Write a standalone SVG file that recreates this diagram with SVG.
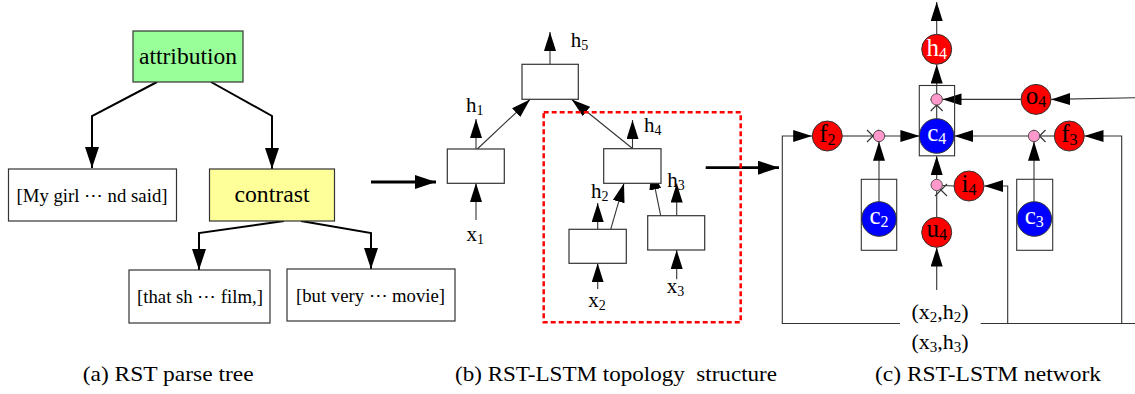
<svg xmlns="http://www.w3.org/2000/svg" width="1135" height="394" viewBox="0 0 1135 394">
<style>
  text { font-family: "Liberation Serif", "Times New Roman", "DejaVu Serif", serif; fill: #000; }
  .box { fill: #fff; stroke: #333; stroke-width: 1.2; }
  .thin { fill: none; stroke: #333; stroke-width: 1.1; }
  .thick { fill: none; stroke: #000; stroke-width: 2; }
  .big { fill: none; stroke: #000; stroke-width: 2.8; }
  .red { fill: #FF0000; stroke: #333; stroke-width: 1; }
  .blue { fill: #0000FF; stroke: #333; stroke-width: 1; }
  .pink { fill: #FF99CC; stroke: #333; stroke-width: 0.8; }
  .ctext { font-size: 25px; text-anchor: middle; }
  .wtext { font-size: 25px; text-anchor: middle; fill: #fff; }
  .lbl { font-size: 21px; }
  .cap { font-size: 22px; }
</style>
<defs>
  <marker id="ah" markerUnits="userSpaceOnUse" markerWidth="19" markerHeight="12" refX="19" refY="6" orient="auto">
    <path d="M0,0 L19,6 L0,12 z" fill="#000"/>
  </marker>
  <marker id="ahA" markerUnits="userSpaceOnUse" markerWidth="21" markerHeight="14" refX="21" refY="7" orient="auto">
    <path d="M0,0 L21,7 L0,14 z" fill="#000"/>
  </marker>
</defs>

<!-- Connectors -->
<g id="connectors">
  <!-- panel a -->
  <polyline class="thick" points="157,82 92,116 92,168" marker-end="url(#ahA)"/>
  <polyline class="thick" points="211,82 272,116 272,169" marker-end="url(#ahA)"/>
  <polyline class="thick" points="284,221 199,233 199,270" marker-end="url(#ahA)"/>
  <polyline class="thick" points="301,221 371,233 371,269" marker-end="url(#ahA)"/>
  <line class="big" x1="371" y1="182" x2="436" y2="182" marker-end="url(#ahA)"/>
  <!-- panel b -->
  <line class="thin" x1="550" y1="64" x2="550" y2="32" marker-end="url(#ah)"/>
  <line class="thin" x1="476" y1="149" x2="476" y2="119" marker-end="url(#ah)"/>
  <line class="thin" x1="476" y1="220" x2="476" y2="183" marker-end="url(#ah)"/>
  <line class="thin" x1="477.3" y1="149" x2="530" y2="99.5" marker-end="url(#ah)"/>
  <line class="thin" x1="632.5" y1="148.5" x2="571.7" y2="99.5" marker-end="url(#ah)"/>
  <line class="thin" x1="632.5" y1="148.5" x2="632.5" y2="120" marker-end="url(#ah)"/>
  <line class="thin" x1="597.7" y1="229.3" x2="597.7" y2="203" marker-end="url(#ah)"/>
  <line class="thin" x1="610.7" y1="229.3" x2="624" y2="183.3" marker-end="url(#ah)"/>
  <line class="thin" x1="597.7" y1="289" x2="597.7" y2="263.3" marker-end="url(#ah)"/>
  <line class="thin" x1="676.7" y1="215.7" x2="676.7" y2="183.5" marker-end="url(#ah)"/>
  <line class="thin" x1="660.7" y1="215.7" x2="651.5" y2="170.7" marker-end="url(#ah)"/>
  <line class="thin" x1="676.7" y1="279.3" x2="676.7" y2="250" marker-end="url(#ah)"/>
  <line class="big" x1="705.7" y1="167.7" x2="779" y2="167.7" marker-end="url(#ahA)"/>
  <!-- panel c -->
  <line class="thin" x1="936.7" y1="34.3" x2="936.7" y2="2" marker-end="url(#ah)"/>
  <line class="thin" x1="936.7" y1="118.7" x2="936.7" y2="64.5" marker-end="url(#ah)"/>
  <line class="thin" x1="1021" y1="99.4" x2="942.5" y2="99.4" marker-end="url(#ah)"/>
  <line class="thin" x1="1135" y1="97.7" x2="1051.2" y2="99.4" marker-end="url(#ah)"/>
  <polyline class="thin" points="900,323.5 782.3,323.5 782.3,136 812.2,136" marker-end="url(#ah)"/>
  <line class="thin" x1="842.3" y1="136" x2="873.3" y2="136"/>
  <line class="thin" x1="884.7" y1="136" x2="919.4" y2="136" marker-end="url(#ah)"/>
  <line class="thin" x1="879" y1="201.7" x2="879" y2="141.7" marker-end="url(#ah)"/>
  <line class="thin" x1="980.7" y1="323.5" x2="1135" y2="323.5"/>
  <polyline class="thin" points="1121.7,323.5 1121.7,136 1084.5,136" marker-end="url(#ah)"/>
  <polyline class="thin" points="1007.7,323.5 1007.7,186 984.2,186" marker-end="url(#ah)"/>
  <line class="thin" x1="1054.3" y1="136" x2="1039.7" y2="136"/>
  <line class="thin" x1="1028.3" y1="136" x2="954.3" y2="136" marker-end="url(#ah)"/>
  <line class="thin" x1="1034" y1="201.7" x2="1034" y2="141.7" marker-end="url(#ah)"/>
  <line class="thin" x1="954" y1="186" x2="942.4" y2="185.5"/>
  <line class="thin" x1="936.7" y1="179.3" x2="936.7" y2="156" marker-end="url(#ah)"/>
  <line class="thin" x1="936.7" y1="217.3" x2="936.7" y2="190.7"/>
  <line class="thin" x1="936.7" y1="290" x2="936.7" y2="247.5" marker-end="url(#ah)"/>
  <!-- multiply crosses -->
  <path class="thin" d="M867,130 L879,142 M867,142 L879,130"/>
  <path class="thin" d="M1033.5,130 L1045.5,142 M1033.5,142 L1045.5,130"/>
  <path class="thin" d="M930.7,99 L942.7,111 M930.7,111 L942.7,99"/>
  <path class="thin" d="M935,184 L947,196 M935,196 L947,184"/>
</g>

<!-- Panel a nodes -->
<g id="attribution">
  <rect x="133" y="31" width="110" height="51" fill="#99FF99" stroke="#333" stroke-width="1.2"/>
  <text x="188" y="64" font-size="23" text-anchor="middle" textLength="98" lengthAdjust="spacingAndGlyphs">attribution</text>
</g>
<g id="leaf1">
  <rect class="box" x="8.5" y="169" width="168" height="52"/>
  <text x="92" y="201.5" font-size="19" text-anchor="middle" textLength="151" lengthAdjust="spacingAndGlyphs">[My girl ⋯ nd said]</text>
</g>
<g id="contrast">
  <rect x="209.5" y="169" width="125" height="52" fill="#FFFF99" stroke="#333" stroke-width="1.2"/>
  <text x="272" y="201.5" font-size="23" text-anchor="middle" textLength="75" lengthAdjust="spacingAndGlyphs">contrast</text>
</g>
<g id="leaf2">
  <rect class="box" x="129" y="270" width="141" height="53"/>
  <text x="200" y="303" font-size="19" text-anchor="middle" textLength="126" lengthAdjust="spacingAndGlyphs">[that sh ⋯ film,]</text>
</g>
<g id="leaf3">
  <rect class="box" x="287" y="269" width="168" height="52"/>
  <text x="370.5" y="301.5" font-size="19" text-anchor="middle" textLength="149" lengthAdjust="spacingAndGlyphs">[but very ⋯ movie]</text>
</g>

<!-- Panel b nodes -->
<g id="b-top">
  <rect class="box" x="522" y="64.3" width="56.3" height="35"/>
  <text class="lbl" x="570.7" y="46.7">h<tspan font-size="14" dy="3">5</tspan></text>
</g>
<g id="b-left">
  <rect class="box" x="447.3" y="149" width="57" height="34.3"/>
  <text class="lbl" x="466" y="112.3">h<tspan font-size="14" dy="3">1</tspan></text>
  <text class="lbl" x="466.5" y="241">x<tspan font-size="14" dy="3">1</tspan></text>
</g>
<g id="b-mid">
  <rect class="box" x="603.7" y="148.7" width="57.3" height="34.6"/>
  <text class="lbl" x="644" y="131.7">h<tspan font-size="14" dy="3">4</tspan></text>
</g>
<g id="b-x2">
  <rect class="box" x="569" y="229.3" width="57.3" height="34"/>
  <text class="lbl" x="591" y="198.3">h<tspan font-size="14" dy="3">2</tspan></text>
  <text class="lbl" x="588.3" y="307.3">x<tspan font-size="14" dy="3">2</tspan></text>
</g>
<g id="b-x3">
  <rect class="box" x="647.7" y="215.7" width="57" height="34.3"/>
  <text class="lbl" x="667.3" y="186.7">h<tspan font-size="14" dy="3">3</tspan></text>
  <text class="lbl" x="666.7" y="293.3">x<tspan font-size="14" dy="3">3</tspan></text>
</g>
<g id="subtree">
  <rect x="543.7" y="112.3" width="197" height="210" fill="none" stroke="#FF0000" stroke-width="2.5" stroke-dasharray="5,3"/>
</g>

<!-- Panel c nodes -->
<g id="c4-box"><rect x="919.3" y="85.5" width="35.3" height="70.3" fill="none" stroke="#333" stroke-width="1.1"/></g>
<g id="c2-box"><rect x="861.3" y="179.3" width="35.4" height="71" fill="none" stroke="#333" stroke-width="1.1"/></g>
<g id="c3-box"><rect x="1016.7" y="179.3" width="36" height="71" fill="none" stroke="#333" stroke-width="1.1"/></g>
<g id="h4">
  <circle class="red" cx="936.7" cy="49.3" r="15"/>
  <text class="wtext" x="936.7" y="56">h<tspan font-size="16" dy="3">4</tspan></text>
</g>
<g id="o4">
  <circle class="red" cx="1036" cy="99.4" r="15"/>
  <text class="ctext" x="1036" y="104">o<tspan font-size="16" dy="3">4</tspan></text>
</g>
<g id="c4">
  <circle class="blue" cx="936.7" cy="136" r="17.3"/>
  <text class="wtext" x="936.7" y="141">c<tspan font-size="16" dy="3">4</tspan></text>
</g>
<g id="f2">
  <circle class="red" cx="827.3" cy="136" r="15"/>
  <text class="ctext" x="827.3" y="142">f<tspan font-size="16" dy="3">2</tspan></text>
</g>
<g id="f3">
  <circle class="red" cx="1069.3" cy="136" r="15"/>
  <text class="ctext" x="1069.3" y="142">f<tspan font-size="16" dy="3">3</tspan></text>
</g>
<g id="i4">
  <circle class="red" cx="969" cy="186" r="15"/>
  <text class="ctext" x="969" y="192">i<tspan font-size="16" dy="3">4</tspan></text>
</g>
<g id="u4">
  <circle class="red" cx="936.7" cy="232.3" r="15"/>
  <text class="ctext" x="936.7" y="237">u<tspan font-size="16" dy="3">4</tspan></text>
</g>
<g id="c2">
  <circle class="blue" cx="879" cy="219" r="17.3"/>
  <text class="wtext" x="879" y="224">c<tspan font-size="16" dy="3">2</tspan></text>
</g>
<g id="c3">
  <circle class="blue" cx="1034.3" cy="219" r="17.3"/>
  <text class="wtext" x="1034.3" y="224">c<tspan font-size="16" dy="3">3</tspan></text>
</g>
<g id="mult-o"><circle class="pink" cx="936.7" cy="99.4" r="5.7"/></g>
<g id="mult-f2"><circle class="pink" cx="879" cy="136" r="5.7"/></g>
<g id="mult-f3"><circle class="pink" cx="1034" cy="136" r="5.7"/></g>
<g id="mult-i"><circle class="pink" cx="936.7" cy="185" r="5.7"/></g>
<g id="inputs">
  <text x="940" y="319" font-size="22" text-anchor="middle">(x<tspan font-size="15" dy="3">2</tspan><tspan dy="-3">,h</tspan><tspan font-size="15" dy="3">2</tspan><tspan dy="-3">)</tspan></text>
  <text x="940" y="349" font-size="22" text-anchor="middle">(x<tspan font-size="15" dy="3">3</tspan><tspan dy="-3">,h</tspan><tspan font-size="15" dy="3">3</tspan><tspan dy="-3">)</tspan></text>
</g>

<!-- Captions -->
<g id="captions">
  <text class="cap" x="82.7" y="381" textLength="171" lengthAdjust="spacingAndGlyphs">(a) RST parse tree</text>
  <text class="cap" x="455" y="381" textLength="322" lengthAdjust="spacingAndGlyphs" xml:space="preserve">(b) RST-LSTM topology  structure</text>
  <text class="cap" x="875" y="381" textLength="226" lengthAdjust="spacingAndGlyphs">(c) RST-LSTM network</text>
</g>
</svg>
